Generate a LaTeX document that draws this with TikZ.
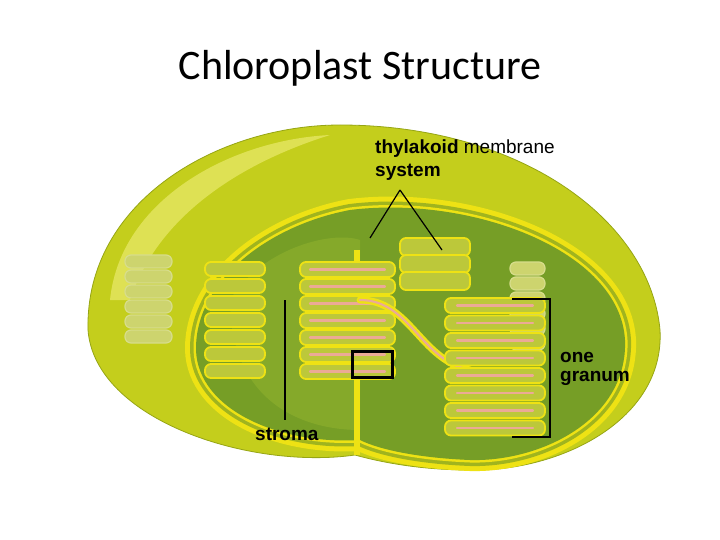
\documentclass[tikz,border=0pt]{standalone}
\usepackage{fontspec}
\setmainfont{Carlito}
\newfontfamily\lab{Liberation Sans}
\definecolor{outerc}{RGB}{196,206,28}
\definecolor{outerd}{RGB}{150,165,20}
\definecolor{memy}{RGB}{238,226,20}
\definecolor{memg}{RGB}{160,180,30}
\definecolor{stromac}{RGB}{118,158,38}
\definecolor{stromal}{RGB}{140,175,45}
\definecolor{discf}{RGB}{188,200,58}
\definecolor{fdiscf}{RGB}{205,212,110}
\definecolor{pinkc}{RGB}{235,170,150}
\begin{document}
\begin{tikzpicture}[x=1pt,y=-1pt,
  disc/.style={draw=memy,line width=1.8pt,fill=discf,rounded corners=6pt},
  fdisc/.style={draw=fdiscf!80!white,line width=1.2pt,fill=fdiscf,rounded corners=6pt},
  lamella/.style={draw=memy,line width=7pt,line cap=round},
  pink/.style={draw=pinkc,line width=2.2pt,line cap=round},
  lbl/.style={font=\lab\fontsize{19}{22}\selectfont,inner sep=0pt,anchor=west},
  pointer/.style={draw=black,line width=1.2pt}]
\useasboundingbox (0,0) rectangle (720,540);
\fill[white] (0,0) rectangle (720,540);
\node (title) at (360,68) {\fontsize{42}{48}\selectfont Chloroplast Structure};
% outer body
\path[fill=outerc,draw=outerd,line width=0.8pt]
 (355,455) .. controls (250,470) and (95,420) .. (88,330) .. controls (85,200) and (220,125) .. (340,125)
 .. controls (520,125) and (650,220) .. (660,330) .. controls (665,420) and (560,472) .. (470,470)
 .. controls (420,470) and (380,462) .. (355,455) -- cycle;
\fill[yellow!40!white,opacity=0.45] (110,300) .. controls (120,200) and (230,140) .. (330,135) .. controls (250,160) and (160,210) .. (130,300) -- cycle;
% inner membranes and stroma
\def\inner{(360,440) .. controls (280,445) and (198,410) .. (196,350) .. controls (195,280) and (270,225) .. (350,210) .. controls (470,195) and (620,250) .. (625,340) .. controls (628,420) and (540,462) .. (470,460) .. controls (420,458) and (380,450) .. (360,440) -- cycle}
\draw[memy,line width=22pt] \inner;
\draw[memg,line width=12pt] \inner;
\draw[memy,line width=5pt] \inner;
\fill[stromac] \inner;
\fill[stromal,opacity=0.7] (230,300) .. controls (260,250) and (330,230) .. (360,240) -- (360,430) .. controls (300,430) and (230,400) .. (230,300) -- cycle;
% faded grana on the outer left
\foreach \i in {0,...,5} \draw[fdisc] (125,{255+\i*15}) rectangle (172,{268+\i*15});
% grana in the back
\foreach \i in {0,...,6} \draw[disc] (205,{262+\i*17}) rectangle (265,{276+\i*17});
\foreach \i in {0,...,2} \draw[disc] (400,{238+\i*17}) rectangle (470,{256+\i*17});
\foreach \i in {0,...,5} \draw[fdisc] (510,{262+\i*15}) rectangle (545,{275+\i*15});
% cut front face
\draw[memy,line width=6pt] (357,250) -- (357,455);
% central cut granum
\foreach \i in {0,...,6} {
  \draw[disc] (300,{262+\i*17}) rectangle (395,{277+\i*17});
  \draw[pink] (310,{269.5+\i*17}) -- (385,{269.5+\i*17});
}
% connecting lamella
\draw[lamella] (360,300) .. controls (410,300) and (420,360) .. (470,370);
\draw[pink] (360,300) .. controls (410,300) and (420,360) .. (470,370);
% right granum
\foreach \i in {0,...,7} {
  \draw[disc] (445,{298+\i*17.5}) rectangle (545,{313+\i*17.5});
  \draw[pink] (457,{305.5+\i*17.5}) -- (533,{305.5+\i*17.5});
}
% labels
\node[lbl] (thy) at (375,149) {\textbf{thylakoid} membrane};
\node[lbl] (sys) at (375,172) {\textbf{system}};
\coordinate (tip) at (400,190);
\coordinate (t1) at (370,238);
\coordinate (t2) at (442,250);
\draw[pointer] (tip) -- (t1) (tip) -- (t2);
\node[lbl] (stroma) at (255,434) {\textbf{stroma}};
\coordinate (s1) at (285,300);
\coordinate (s2) at (285,420);
\draw[pointer] (s1) -- (s2);
\node[lbl] (one) at (560,357) {\textbf{one}};
\node[lbl] (granum) at (560,378) {\textbf{granum}};
\coordinate (b1) at (512,299);
\coordinate (b2) at (550,299);
\coordinate (b3) at (550,437);
\coordinate (b4) at (512,437);
\draw[pointer,line width=2pt] (b1) -- (b2) -- (b3) -- (b4);
\node[draw=black,line width=3pt,minimum width=40pt,minimum height=26pt,inner sep=0pt] (box) at (372,364) {};
\end{tikzpicture}
\end{document}
